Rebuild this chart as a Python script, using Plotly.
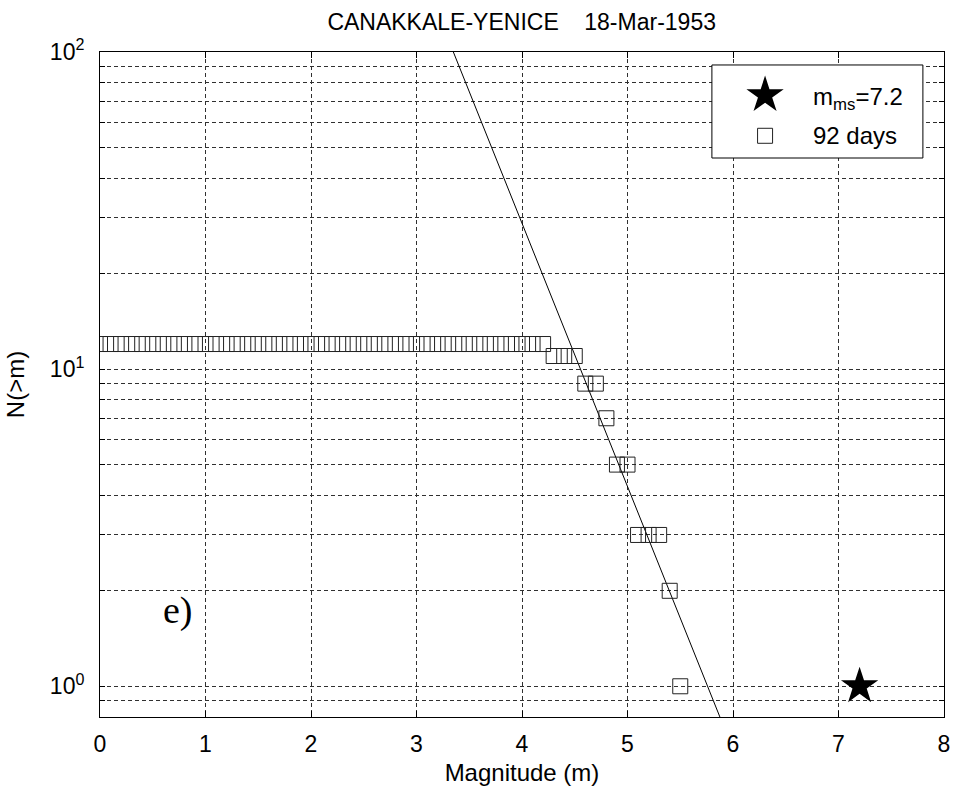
import math
import plotly.graph_objects as go

# Cumulative aftershock counts N(>m) within 92 days
magnitudes = [0.0, 0.1, 0.2, 0.3, 0.4, 0.5, 0.6, 0.7, 0.8, 0.9,
              1.0, 1.1, 1.2, 1.3, 1.4, 1.5, 1.6, 1.7, 1.8, 1.9,
              2.0, 2.1, 2.2, 2.3, 2.4, 2.5, 2.6, 2.7, 2.8, 2.9,
              3.0, 3.1, 3.2, 3.3, 3.4, 3.5, 3.6, 3.7, 3.8, 3.9,
              4.0, 4.1, 4.2, 4.3, 4.4, 4.5, 4.6, 4.7, 4.8, 4.9,
              5.0, 5.1, 5.2, 5.3, 5.4, 5.5]
counts = [12, 12, 12, 12, 12, 12, 12, 12, 12, 12,
          12, 12, 12, 12, 12, 12, 12, 12, 12, 12,
          12, 12, 12, 12, 12, 12, 12, 12, 12, 12,
          12, 12, 12, 12, 12, 12, 12, 12, 12, 12,
          12, 12, 12, 11, 11, 11, 9, 9, 7, 5,
          5, 3, 3, 3, 2, 1]

# Mainshock
mainshock_mag = [7.2]
mainshock_n = [1]

# Gutenberg-Richter fit: log10 N = a - b m
gr_a = 4.78
gr_b = 0.83
fit_mags = [3.0, 6.0]

x_ticks = [0, 1, 2, 3, 4, 5, 6, 7, 8]
y_grid = [0.9, 1, 2, 3, 4, 5, 6, 7, 8, 9,
          10, 20, 30, 40, 50, 60, 70, 80, 90, 100]
y_labels = {1: "10<sup>0</sup>", 10: "10<sup>1</sup>", 100: "10<sup>2</sup>"}

FONT = "Liberation Sans, Arial, sans-serif"
GRID = dict(showgrid=True, gridcolor="#303030", gridwidth=1, griddash="4px,3px")

# Legend box (fractions of the plot area)
LEG_X0, LEG_X1, LEG_Y0, LEG_Y1 = 0.725, 0.975, 0.8406, 0.9805
KEY_X, TEXT_X = 0.788, 0.843
ROW1_Y, ROW2_Y = 0.935, 0.874

fig = go.Figure()

fig.add_trace(go.Scatter(
    x=fit_mags, y=[10 ** (gr_a - gr_b * m) for m in fit_mags],
    mode="lines", line=dict(color="black", width=1), showlegend=False,
))
fig.add_trace(go.Scatter(
    x=magnitudes, y=counts, mode="markers", showlegend=False,
    marker=dict(symbol="square-open", size=15, color="#222222",
                line=dict(width=1, color="#222222")),
))
fig.add_trace(go.Scatter(
    x=mainshock_mag, y=mainshock_n, mode="markers", showlegend=False,
    marker=dict(symbol="star", size=28, color="black",
                line=dict(width=0)),
))

# Legend: white box plus key glyphs on a hidden 0..1 overlay
fig.add_trace(go.Scatter(
    x=[LEG_X0, LEG_X1, LEG_X1, LEG_X0, LEG_X0],
    y=[LEG_Y0, LEG_Y0, LEG_Y1, LEG_Y1, LEG_Y0],
    xaxis="x2", yaxis="y2", mode="lines", fill="toself",
    fillcolor="white", line=dict(color="black", width=1),
    showlegend=False, hoverinfo="skip",
))
fig.add_trace(go.Scatter(
    x=[KEY_X], y=[ROW1_Y], xaxis="x2", yaxis="y2", mode="markers",
    showlegend=False, hoverinfo="skip",
    marker=dict(symbol="star", size=28, color="black", line=dict(width=0)),
))
fig.add_trace(go.Scatter(
    x=[KEY_X], y=[ROW2_Y], xaxis="x2", yaxis="y2", mode="markers",
    showlegend=False, hoverinfo="skip",
    marker=dict(symbol="square-open", size=15, color="#222222",
                line=dict(width=1, color="#222222")),
))

fig.update_layout(
    width=953, height=788,
    margin=dict(l=100, r=9, t=52, b=71, autoexpand=False),
    paper_bgcolor="white", plot_bgcolor="white",
    font=dict(family=FONT, size=23, color="black"),
    title=dict(text="CANAKKALE-YENICE\u00a0\u00a0\u00a0\u00a018-Mar-1953",
               x=0.5474, xanchor="center", y=1 - 22 / 788, yanchor="middle",
               yref="container", font=dict(size=23, family=FONT)),
    xaxis=dict(
        range=[0, 8], tickvals=x_ticks, ticktext=[str(t) for t in x_ticks],
        ticks="inside", ticklen=6, tickcolor="black",
        showline=True, linecolor="black", linewidth=1, mirror="ticks",
        zeroline=False, ticklabelstandoff=6, automargin=False,
        title=dict(text="Magnitude (m)", font=dict(size=24), standoff=8),
        **GRID,
    ),
    yaxis=dict(
        type="log", range=[math.log10(0.8), 2],
        tickvals=y_grid, ticktext=[y_labels.get(v, "") for v in y_grid],
        ticks="inside", ticklen=5, tickcolor="black",
        showline=True, linecolor="black", linewidth=1, mirror="ticks",
        zeroline=False, ticklabelstandoff=10, automargin=False,
        title=dict(text="N(>m)", font=dict(size=24), standoff=18),
        **GRID,
    ),
    xaxis2=dict(overlaying="x", range=[0, 1], visible=False,
                fixedrange=True, automargin=False),
    yaxis2=dict(overlaying="y", range=[0, 1], visible=False,
                fixedrange=True, automargin=False),
    annotations=[
        dict(text="m<sub>ms</sub>=7.2", xref="x domain", yref="y domain",
             x=TEXT_X, y=0.930, xanchor="left", yanchor="middle",
             showarrow=False, font=dict(size=24)),
        dict(text="92 days", xref="x domain", yref="y domain",
             x=TEXT_X, y=ROW2_Y, xanchor="left", yanchor="middle",
             showarrow=False, font=dict(size=24)),
        dict(text="e)", xref="x domain", yref="y domain",
             x=(178 - 100) / 844, y=(717 - 610) / 665,
             xanchor="center", yanchor="middle", showarrow=False,
             font=dict(size=38, family="Liberation Serif, Times New Roman, serif")),
    ],
)

fig.write_html("out.html")
